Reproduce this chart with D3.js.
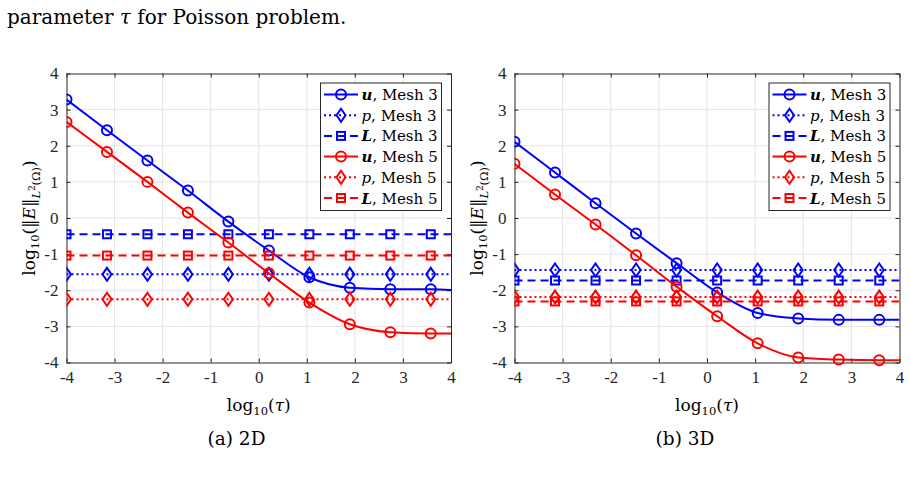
<!DOCTYPE html>
<html>
<head>
<meta charset="utf-8">
<script src="https://cdn.jsdelivr.net/npm/d3@7"></script>
<style>
  body { margin: 0; background: #fff; }
  svg { font-family: "DejaVu Serif", "Liberation Serif", serif; }
</style>
</head>
<body>
<svg id="fig" width="910" height="485"></svg>
<script>
// log10(tau) sample points, markers on all but the last one (x = 4)
const tauLog = [-4, -3.158, -2.316, -1.474, -0.632, 0.211, 1.053, 1.895, 2.737, 3.579, 4]

// 2D errors, log10
const u3_2D = [3.28, 2.43, 1.59, 0.76, -0.10, -0.90, -1.64, -1.93, -1.97, -1.97, -1.99]
const p3_2D = [-1.56, -1.56, -1.56, -1.56, -1.56, -1.56, -1.56, -1.56, -1.56, -1.56, -1.56]
const L3_2D = [-0.45, -0.45, -0.45, -0.45, -0.45, -0.45, -0.45, -0.45, -0.45, -0.45, -0.45]
const u5_2D = [2.66, 1.83, 1.00, 0.15, -0.68, -1.53, -2.34, -2.94, -3.16, -3.20, -3.20]
const p5_2D = [-2.25, -2.25, -2.25, -2.25, -2.25, -2.25, -2.25, -2.25, -2.25, -2.25, -2.25]
const L5_2D = [-1.04, -1.04, -1.04, -1.04, -1.04, -1.04, -1.04, -1.04, -1.04, -1.04, -1.04]

// 3D errors, log10
const u3_3D = [2.11, 1.26, 0.41, -0.43, -1.25, -2.06, -2.63, -2.78, -2.82, -2.82, -2.82]
const p3_3D = [-1.44, -1.44, -1.44, -1.44, -1.44, -1.44, -1.44, -1.44, -1.44, -1.44, -1.44]
const L3_3D = [-1.73, -1.73, -1.73, -1.73, -1.73, -1.73, -1.73, -1.73, -1.73, -1.73, -1.73]
const u5_3D = [1.50, 0.65, -0.18, -1.03, -1.90, -2.72, -3.47, -3.86, -3.92, -3.94, -3.94]
const p5_3D = [-2.19, -2.19, -2.19, -2.19, -2.19, -2.19, -2.19, -2.19, -2.19, -2.19, -2.19]
const L5_3D = [-2.31, -2.31, -2.31, -2.31, -2.31, -2.31, -2.31, -2.31, -2.31, -2.31, -2.31]

const xTicks = [-4, -3, -2, -1, 0, 1, 2, 3, 4]
const yTicks = [-4, -3, -2, -1, 0, 1, 2, 3, 4]
const legendNames = [["u", "Mesh 3"], ["p", "Mesh 3"], ["L", "Mesh 3"],
                     ["u", "Mesh 5"], ["p", "Mesh 5"], ["L", "Mesh 5"]]
const captions = ["(a) 2D", "(b) 3D"]

const BLUE = "#0000ff", RED = "#ff0000"
const styles = [
    {color: BLUE, dash: null,  marker: "circle"},
    {color: BLUE, dash: "2,3", marker: "diamond"},
    {color: BLUE, dash: "8,5", marker: "square"},
    {color: RED,  dash: null,  marker: "circle"},
    {color: RED,  dash: "2,3", marker: "diamond"},
    {color: RED,  dash: "8,5", marker: "square"}
]

const svg = d3.select("#fig")

// caption line from the paper above the figure
svg.append("text")
    .attr("x", 7).attr("y", 24)
    .attr("font-size", 20)
    .html('parameter <tspan font-style="italic">τ</tspan> for Poisson problem.')

function drawMarker(g, type, color) {
    if (type == "circle") {
        g.append("circle").attr("r", 5)
    } else if (type == "diamond") {
        g.append("path").attr("d", "M0,-6.5L4.5,0L0,6.5L-4.5,0Z")
    } else {
        g.append("rect").attr("x", -4).attr("y", -4).attr("width", 8).attr("height", 8)
    }
    g.selectAll("*").attr("fill", "none").attr("stroke", color).attr("stroke-width", 2)
}

function drawPanel(left, right, series, caption, idx) {
    const top = 73.5, bottom = 362.5
    const x = d3.scaleLinear().domain([-4, 4]).range([left, right])
    const y = d3.scaleLinear().domain([-4, 4]).range([bottom, top])

    const g = svg.append("g")
    const clipId = "clip" + idx
    g.append("clipPath").attr("id", clipId)
        .append("rect").attr("x", left).attr("y", top - 8)
        .attr("width", right - left).attr("height", bottom - top + 16)

    // grid
    g.append("g").selectAll("line").data(xTicks.slice(1, -1)).join("line")
        .attr("x1", d => x(d)).attr("x2", d => x(d))
        .attr("y1", top).attr("y2", bottom)
        .attr("stroke", "#e3e3e3").attr("stroke-width", 1)
    g.append("g").selectAll("line").data(yTicks.slice(1, -1)).join("line")
        .attr("y1", d => y(d)).attr("y2", d => y(d))
        .attr("x1", left).attr("x2", right)
        .attr("stroke", "#e3e3e3").attr("stroke-width", 1)

    // axes, ticks pointing inwards
    const fmt = d => String(d)
    const ax = [
        g.append("g").attr("transform", `translate(0,${bottom})`)
            .call(d3.axisBottom(x).tickValues(xTicks).tickFormat(fmt).tickSize(-4).tickSizeOuter(0).tickPadding(8)),
        g.append("g").attr("transform", `translate(${left},0)`)
            .call(d3.axisLeft(y).tickValues(yTicks).tickFormat(fmt).tickSize(-4).tickSizeOuter(0).tickPadding(8)),
        g.append("g").attr("transform", `translate(0,${top})`)
            .call(d3.axisTop(x).tickValues(xTicks).tickFormat("").tickSize(-4).tickSizeOuter(0)),
        g.append("g").attr("transform", `translate(${right},0)`)
            .call(d3.axisRight(y).tickValues(yTicks).tickFormat("").tickSize(-4).tickSizeOuter(0))
    ]
    ax.forEach(a => {
        a.selectAll("path, line").attr("stroke", "#262626")
        a.selectAll("text").attr("fill", "#262626").attr("font-size", 17)
            .attr("font-family", "Liberation Serif, serif")
    })

    // series
    const line = d3.line().x((d, i) => x(tauLog[i])).y(d => y(d)).curve(d3.curveMonotoneX)
    const plot = g.append("g").attr("clip-path", `url(#${clipId})`)
    series.forEach((s, k) => {
        const st = styles[k]
        plot.append("path").datum(s)
            .attr("d", line)
            .attr("fill", "none").attr("stroke", st.color).attr("stroke-width", 2)
            .attr("stroke-dasharray", st.dash)
        plot.append("g").selectAll("g").data(s.slice(0, -1)).join("g")
            .attr("transform", (d, i) => `translate(${x(tauLog[i])},${y(d)})`)
            .each(function () { drawMarker(d3.select(this), st.marker, st.color) })
    })

    // legend
    const lx = right - 130.5, ly = top + 9.5, lw = 121, lh = 127.5
    const leg = g.append("g")
    leg.append("rect").attr("x", lx).attr("y", ly).attr("width", lw).attr("height", lh)
        .attr("fill", "#fff").attr("stroke", "#262626").attr("stroke-width", 1)
    legendNames.forEach((nm, k) => {
        const st = styles[k]
        const cy = ly + 11.5 + k * 20.7
        leg.append("line").attr("x1", lx + 3.5).attr("x2", lx + 37.5)
            .attr("y1", cy).attr("y2", cy)
            .attr("stroke", st.color).attr("stroke-width", 2)
            .attr("stroke-dasharray", st.dash)
        const mg = leg.append("g").attr("transform", `translate(${lx + 20.5},${cy})`)
        drawMarker(mg, st.marker, st.color)
        const t = leg.append("text").attr("x", lx + 41).attr("y", cy + 5.5)
            .attr("font-size", 15).attr("fill", "#000")
        t.append("tspan").attr("font-style", "italic")
            .attr("font-weight", nm[0] == "p" ? "normal" : "bold").text(nm[0])
        t.append("tspan").text(", " + (nm[0] == "p" ? " " : "") + nm[1])
    })

    // axis labels
    const xl = svg.append("text").attr("x", (left + right) / 2).attr("y", 411)
        .attr("text-anchor", "middle").attr("font-size", 17)
    xl.append("tspan").text("log")
    xl.append("tspan").attr("font-size", 11.5).attr("dy", 4).text("10")
    xl.append("tspan").attr("dy", -4).text("(")
    xl.append("tspan").attr("font-style", "italic").text("τ")
    xl.append("tspan").text(")")

    const yl = svg.append("text")
        .attr("transform", `translate(${left - 32},${(top + bottom) / 2}) rotate(-90)`)
        .attr("text-anchor", "middle").attr("font-size", 17)
    yl.append("tspan").text("log")
    yl.append("tspan").attr("font-size", 11.5).attr("dy", 4).text("10")
    yl.append("tspan").attr("dy", -4).text("(‖")
    yl.append("tspan").attr("font-style", "italic").text("E")
    yl.append("tspan").text("‖")
    yl.append("tspan").attr("font-size", 11.5).attr("dy", 5).attr("font-style", "italic").text("L")
    yl.append("tspan").attr("font-size", 8.5).attr("dy", -5).text("2")
    yl.append("tspan").attr("font-size", 11.5).attr("dy", 5).text("(Ω)")
    yl.append("tspan").attr("dy", -5).text(")")

    // sub-figure caption
    svg.append("text").attr("x", idx == 0 ? 236.5 : 685).attr("y", 445)
        .attr("text-anchor", "middle").attr("font-size", 18.5)
        .text(caption)
}

drawPanel(66.5, 451, [u3_2D, p3_2D, L3_2D, u5_2D, p5_2D, L5_2D], captions[0], 0)
drawPanel(514.5, 899.5, [u3_3D, p3_3D, L3_3D, u5_3D, p5_3D, L5_3D], captions[1], 1)
</script>
</body>
</html>
